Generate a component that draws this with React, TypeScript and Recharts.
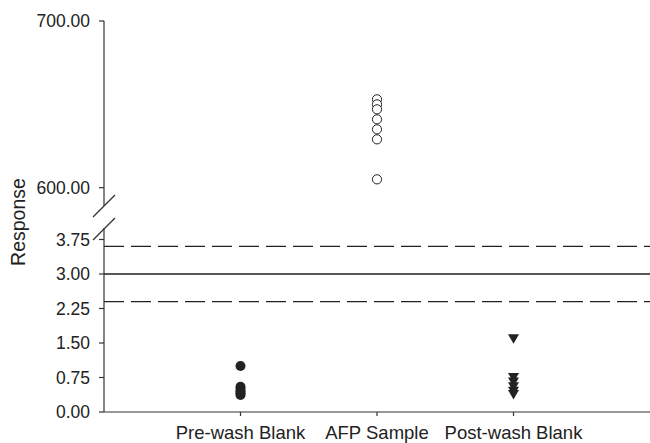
import { ScatterChart, Scatter, XAxis, YAxis, ReferenceLine } from "recharts";

// x positions 1..3 map to these group names
const categories = ["Pre-wash Blank", "AFP Sample", "Post-wash Blank"];

const preWashBlank = [1.0, 0.55, 0.5, 0.45, 0.41, 0.37];
const afpSample = [653, 650, 647, 641, 635, 629, 605];
const postWashBlank = [1.59, 0.75, 0.65, 0.55, 0.45, 0.38];

// mean and +/- limits drawn across the lower panel
const meanLine = 3.0;
const limitLines = [3.6, 2.4];

const upperTicks = [600, 700];
const lowerTicks = [0, 0.75, 1.5, 2.25, 3, 3.75];

const toPoints = (vals: number[], x: number) => vals.map((y) => ({ x, y }));

const W = 650;
const H = 443;
const FONT = "'Liberation Sans', Arial, Helvetica, sans-serif";
const INK = "#222";
const AXIS = "#333";

const tickStyle = { fontSize: 17.5, fill: INK, fontFamily: FONT };

const OpenCircle = (p: any) => (
    <circle cx={p.cx} cy={p.cy} r={4.6} fill="#fff" stroke={INK} strokeWidth={1} />
);

const FilledCircle = (p: any) => <circle cx={p.cx} cy={p.cy} r={5} fill={INK} />;

const DownTriangle = (p: any) => (
    <polygon
        points={`${p.cx - 5.5},${p.cy - 4.5} ${p.cx + 5.5},${p.cy - 4.5} ${p.cx},${p.cy + 5}`}
        fill={INK}
    />
);

const xDomain: [number, number] = [0, 4];

export default function App() {
    return (
        <div style={{ position: "absolute", left: 0, top: 0, width: W, height: H, background: "#fff" }}>
            {/* upper panel: 589 - 700 */}
            <div style={{ position: "absolute", left: 0, top: 0 }}>
                <ScatterChart width={W} height={H} margin={{ top: 21, right: 0, bottom: 237, left: 0 }}>
                    <XAxis type="number" dataKey="x" domain={xDomain} hide />
                    <YAxis
                        type="number"
                        dataKey="y"
                        domain={[589, 700]}
                        ticks={upperTicks}
                        width={104}
                        tickFormatter={(v: number) => v.toFixed(2)}
                        tick={tickStyle}
                        tickSize={5}
                        tickMargin={9}
                        axisLine={{ stroke: AXIS, strokeWidth: 1.2 }}
                        tickLine={{ stroke: AXIS, strokeWidth: 1.2 }}
                        allowDataOverflow
                    />
                    <Scatter data={toPoints(afpSample, 2)} shape={OpenCircle} isAnimationActive={false} />
                </ScatterChart>
            </div>

            {/* lower panel: 0 - 4 */}
            <div style={{ position: "absolute", left: 0, top: 0 }}>
                <ScatterChart width={W} height={H} margin={{ top: 228, right: 0, bottom: 0, left: 0 }}>
                    <XAxis
                        type="number"
                        dataKey="x"
                        domain={xDomain}
                        ticks={[1, 2, 3]}
                        tickFormatter={(v: number) => categories[v - 1] ?? ""}
                        height={31}
                        tick={{ ...tickStyle, fontSize: 18.5 }}
                        tickSize={4}
                        tickMargin={10}
                        interval={0}
                        axisLine={{ stroke: AXIS, strokeWidth: 1.2 }}
                        tickLine={{ stroke: AXIS, strokeWidth: 1.2 }}
                    />
                    <YAxis
                        type="number"
                        dataKey="y"
                        domain={[0, 4]}
                        ticks={lowerTicks}
                        width={104}
                        tickFormatter={(v: number) => v.toFixed(2)}
                        tick={tickStyle}
                        tickSize={5}
                        tickMargin={9}
                        axisLine={{ stroke: AXIS, strokeWidth: 1.2 }}
                        tickLine={{ stroke: AXIS, strokeWidth: 1.2 }}
                        allowDataOverflow
                    />
                    <ReferenceLine y={meanLine} stroke={INK} strokeWidth={1.3} />
                    {limitLines.map((v) => (
                        <ReferenceLine key={v} y={v} stroke={INK} strokeWidth={1.4} strokeDasharray="20 7" />
                    ))}
                    <Scatter data={toPoints(preWashBlank, 1)} shape={FilledCircle} isAnimationActive={false} />
                    <Scatter data={toPoints(postWashBlank, 3)} shape={DownTriangle} isAnimationActive={false} />
                </ScatterChart>
            </div>

            {/* axis break marks and axis title */}
            <svg width={W} height={H} style={{ position: "absolute", left: 0, top: 0, pointerEvents: "none" }}>
                <line x1={93} y1={217} x2={115} y2={195} stroke={AXIS} strokeWidth={1.2} />
                <line x1={93} y1={240} x2={115} y2={218} stroke={AXIS} strokeWidth={1.2} />
                <text
                    x={18}
                    y={222}
                    transform="rotate(-90 18 222)"
                    textAnchor="middle"
                    dominantBaseline="central"
                    fontFamily={FONT}
                    fontSize={19.5}
                    fill={INK}
                >
                    Response
                </text>
            </svg>
        </div>
    );
}
